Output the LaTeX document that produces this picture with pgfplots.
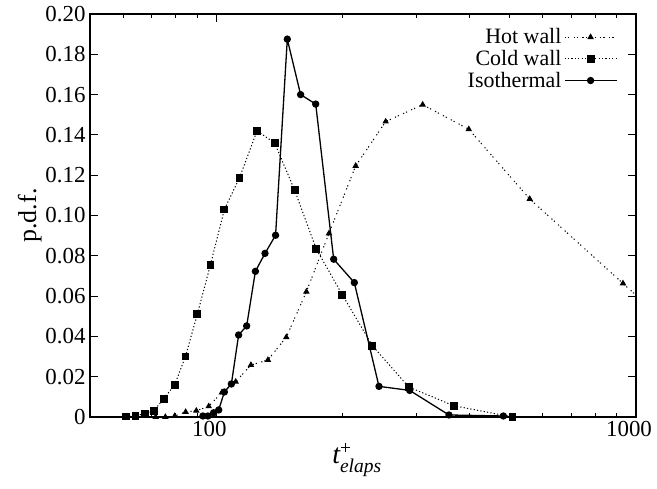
\documentclass[border=0pt]{standalone}
\usepackage{amsmath}
\usepackage{fontspec}
\setmainfont{Liberation Serif}
\usepackage{pgfplots}
\pgfplotsset{compat=1.18}
\begin{document}
\begin{tikzpicture}[font=\fontsize{23}{27}\selectfont]
\begin{axis}[
    scale only axis,
    width=546bp, height=403bp,
    xmode=log,
    xmin=50, xmax=1000,
    ymin=0, ymax=0.2,
    xtick={100,1000},
    xticklabels={100,1000},
    minor xtick={60,70,80,90,200,300,400,500,600,700,800,900},
    ytick={0,0.02,0.04,0.06,0.08,0.1,0.12,0.14,0.16,0.18,0.2},
    yticklabels={0,0.02,0.04,0.06,0.08,0.10,0.12,0.14,0.16,0.18,0.20},
    minor ytick={},
    tick align=inside,
    tick pos=both,
    major tick length=8bp,
    minor tick length=4bp,
    axis line style={line width=1.1bp},
    every tick/.style={line width=0.9bp, black},
    /pgf/number format/assume math mode=true,
    tick label style={font=\fontsize{23}{27}\selectfont},
    xticklabel style={yshift=-1bp, xshift=-7bp},
    yticklabel style={xshift=-1bp},
    xlabel={$\textit{t}^{\text{+}}_{\textit{elaps}}$},
    ylabel={p.d.f.},
    xlabel style={font=\fontsize{28}{32}\selectfont, yshift=0bp, xshift=-6bp},
    ylabel style={font=\fontsize{26}{30}\selectfont, yshift=-3bp},
    legend cell align=right,
    legend plot pos=right,
    legend style={at={(axis description cs:0.966,0.97)}, anchor=north east,
        draw=none, fill=none, inner sep=0pt, row sep=0bp,
        font=\fontsize{22}{26}\selectfont,
        nodes={inner sep=2.5bp}},
    legend image code/.code={
        \draw[mark repeat=2, mark phase=2, #1]
            plot coordinates {(0bp,0bp) (26bp,0bp) (52bp,0bp)};
    },
]

% hot wall
\addplot[black, line width=1bp, dash pattern=on 1.2bp off 2bp on 1.2bp off 4.5bp,
    mark=triangle*, mark size=2.8bp, mark options={solid}]
coordinates {
    (71.7,0) (75.6,0) (79.6,0.0005) (84.5,0.0025) (89.6,0.0031)
    (95.9,0.0053) (103.1,0.0122) (111.2,0.0175) (120.9,0.0258) (132.7,0.0283)
    (146.8,0.0396) (163.9,0.0622) (185.5,0.0911) (214.8,0.1246) (253.2,0.1466)
    (310.2,0.155) (399.6,0.1428) (558.2,0.1082) (931,0.0663) (1100,0.0526)
};
\addlegendentry{Hot wall}

% cold wall
\addplot[black, line width=1bp, dash pattern=on 1.2bp off 2.2bp,
    mark=square*, mark size=3.4bp, mark options={solid}]
coordinates {
    (61.0,0.0002) (64.2,0.0005) (67.5,0.0017) (70.9,0.003) (74.9,0.009)
    (79.6,0.016) (84.4,0.030) (90.1,0.051) (96.8,0.0755) (104.5,0.103)
    (113.6,0.1188) (125,0.142) (137.7,0.136) (153.7,0.1125) (173,0.0834)
    (199.6,0.0607) (235.4,0.0354) (287.3,0.0149) (367.8,0.0056) (507.6,0)
};
\addlegendentry{Cold wall}

% isothermal
\addplot[black, line width=1.3bp, solid,
    mark=*, mark size=3bp]
coordinates {
    (92.9,0.0005) (95.5,0.0005) (98.5,0.0021) (101.3,0.0035) (104.5,0.0124)
    (108.6,0.0164) (113.0,0.0407) (118.1,0.0452) (123.9,0.0723) (130.6,0.0812)
    (138.4,0.0902) (147.6,0.1875) (158.8,0.160) (172.5,0.1553) (190.4,0.0783)
    (213.2,0.0667) (244.1,0.0152) (288.9,0.0132) (358.4,0.001) (483,0.0005)
};
\addlegendentry{Isothermal}

\end{axis}
\pgfresetboundingbox
\path[use as bounding box] (-90bp,-72bp) rectangle (567bp,417bp);
\end{tikzpicture}
\end{document}
